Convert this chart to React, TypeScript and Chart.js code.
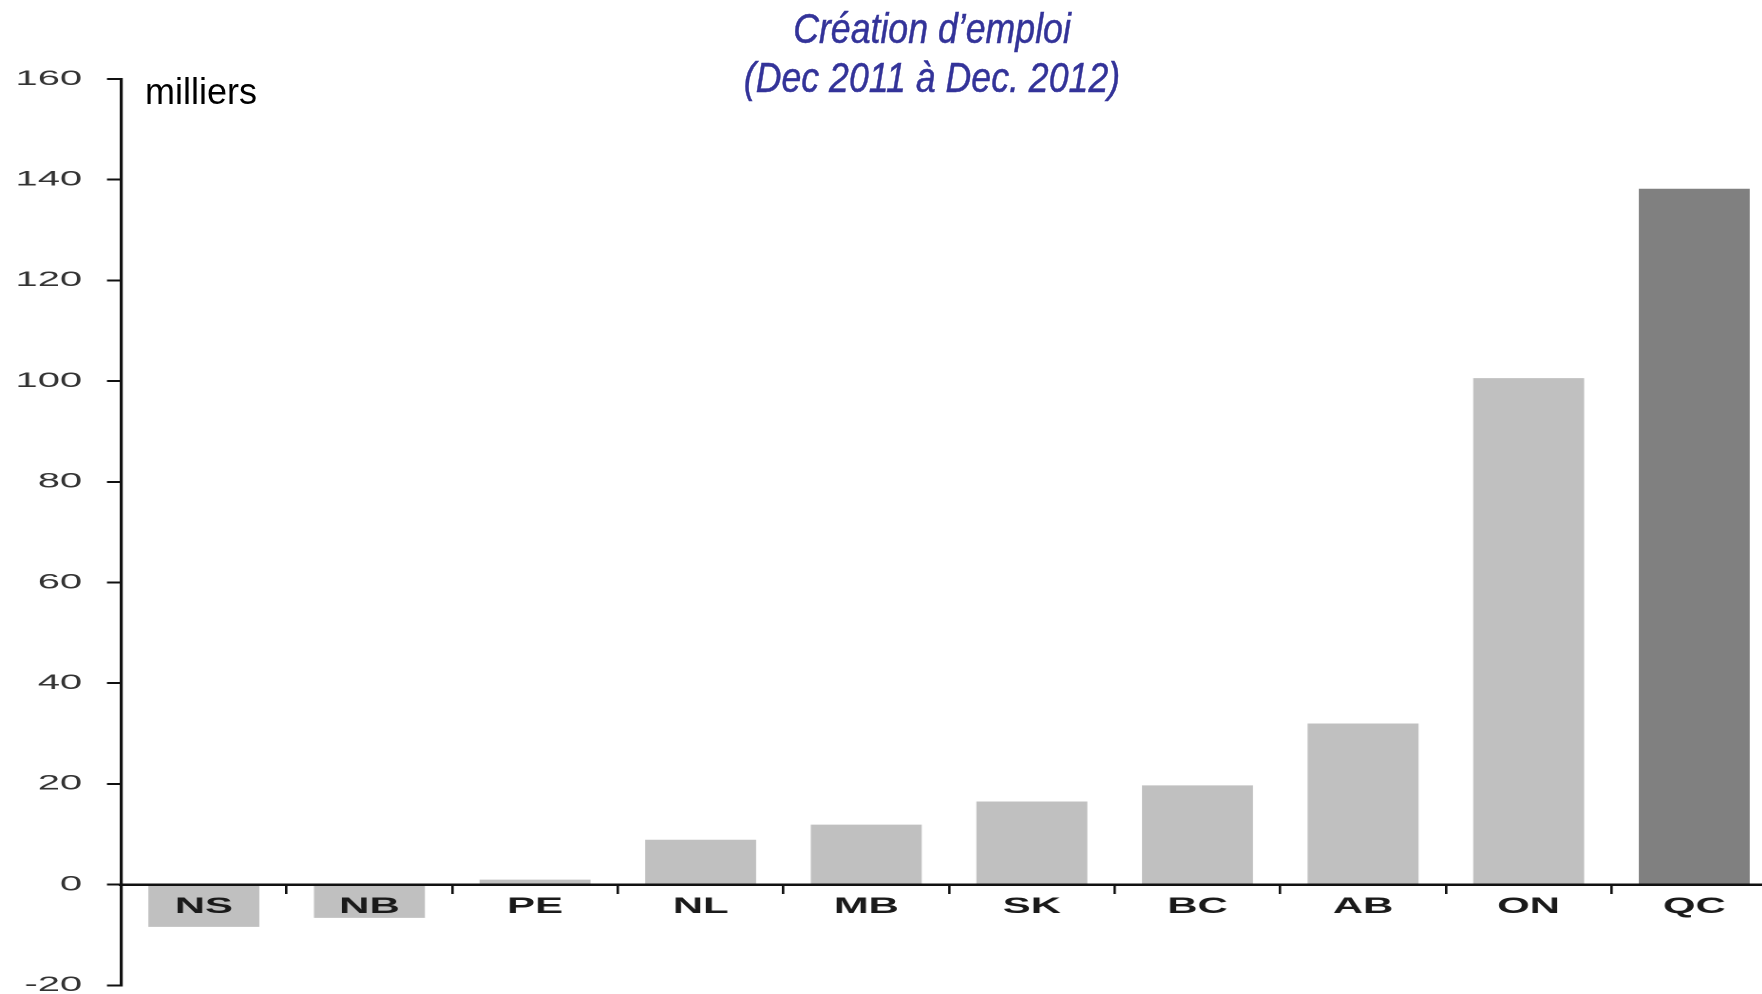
import React, { useEffect, useRef } from "react";
import { Chart, registerables } from "chart.js";

Chart.register(...registerables);

// ---- data ----
const categories: string[] = ["NS", "NB", "PE", "NL", "MB", "SK", "BC", "AB", "ON", "QC"];
const jobsCreated: number[] = [-8.4, -6.6, 1.0, 8.9, 11.9, 16.5, 19.7, 32.0, 100.6, 138.2];
const highlightedCategory = "QC";
const yMin = -20;
const yMax = 160;
const yStep = 20;
const titleLines: string[] = ["Création d’emploi", "(Dec 2011 à Dec. 2012)"];
const unitLabel = "milliers";

// ---- styles ----
const STRETCH = 1.9; // the original chart picture is stretched horizontally
const FONT = "'Liberation Sans', Arial, Helvetica, sans-serif";
const LIGHT = "#c0c0c0";
const DARK = "#808080";
const TITLE_COLOR = "#333399";

export default function App() {
  const canvasRef = useRef<HTMLCanvasElement | null>(null);

  useEffect(() => {
    const canvas = canvasRef.current;
    if (!canvas) return;
    const chart = new Chart(canvas, {
      type: "bar",
      data: {
        labels: categories,
        datasets: [
          {
            data: jobsCreated,
            backgroundColor: categories.map((c) => (c === highlightedCategory ? DARK : LIGHT)),
            borderWidth: 0,
            categoryPercentage: 1,
            barPercentage: 0.67,
          },
        ],
      },
      options: {
        animation: false,
        responsive: false,
        devicePixelRatio: 2,
        layout: { padding: { top: 79, bottom: 16, left: 0, right: 9.7 } },
        plugins: {
          legend: { display: false },
          tooltip: { enabled: false },
          title: { display: false },
        },
        scales: {
          x: {
            position: { y: 0 } as any,
            offset: true,
            grid: {
              display: true,
              drawOnChartArea: false,
              drawTicks: true,
              tickLength: 8,
              color: "#111",
              lineWidth: 1.3,
              offset: true,
              z: 1,
            } as any,
            border: { display: true, color: "#111", width: 2.5, z: 1 } as any,
            ticks: {
              font: { family: FONT, size: 22, weight: "bold" },
              color: "#1a1a1a",
              padding: 1,
              autoSkip: false,
              maxRotation: 0,
              z: 1,
            } as any,
          },
          y: {
            min: yMin,
            max: yMax,
            afterFit: (s: any) => {
              s.width = 63.7;
            },
            grid: {
              drawOnChartArea: false,
              drawTicks: true,
              tickLength: 7.4,
              color: "#111",
              lineWidth: 2,
            },
            border: { display: true, color: "#111", width: 1.6 },
            ticks: {
              stepSize: yStep,
              padding: 13.1,
              font: { family: FONT, size: 21 },
              color: "#333",
            },
          },
        },
      },
    });
    return () => chart.destroy();
  }, []);

  return (
    <div
      style={{
        position: "fixed",
        left: 0,
        top: 0,
        width: 1762,
        height: 994,
        overflow: "hidden",
        background: "#fff",
      }}
    >
      <canvas
        ref={canvasRef}
        width={945}
        height={1011}
        style={{
          position: "absolute",
          left: 0,
          top: 0,
          transform: `scaleX(${STRETCH})`,
          transformOrigin: "0 0",
        }}
      />
      {titleLines.map((line, i) => (
        <div
          key={i}
          style={{
            position: "absolute",
            left: 932,
            top: 7 + i * 48.5,
            transform: "translateX(-50%) scaleX(0.83)",
            fontFamily: FONT,
            fontStyle: "italic",
            fontSize: 43,
            lineHeight: "43px",
            color: TITLE_COLOR,
            WebkitTextStroke: `0.5px ${TITLE_COLOR}`,
            whiteSpace: "nowrap",
          }}
        >
          {line}
        </div>
      ))}
      <div
        style={{
          position: "absolute",
          left: 145,
          top: 73.5,
          fontFamily: FONT,
          fontSize: 36,
          lineHeight: "36px",
          color: "#000",
          whiteSpace: "nowrap",
        }}
      >
        {unitLabel}
      </div>
    </div>
  );
}
